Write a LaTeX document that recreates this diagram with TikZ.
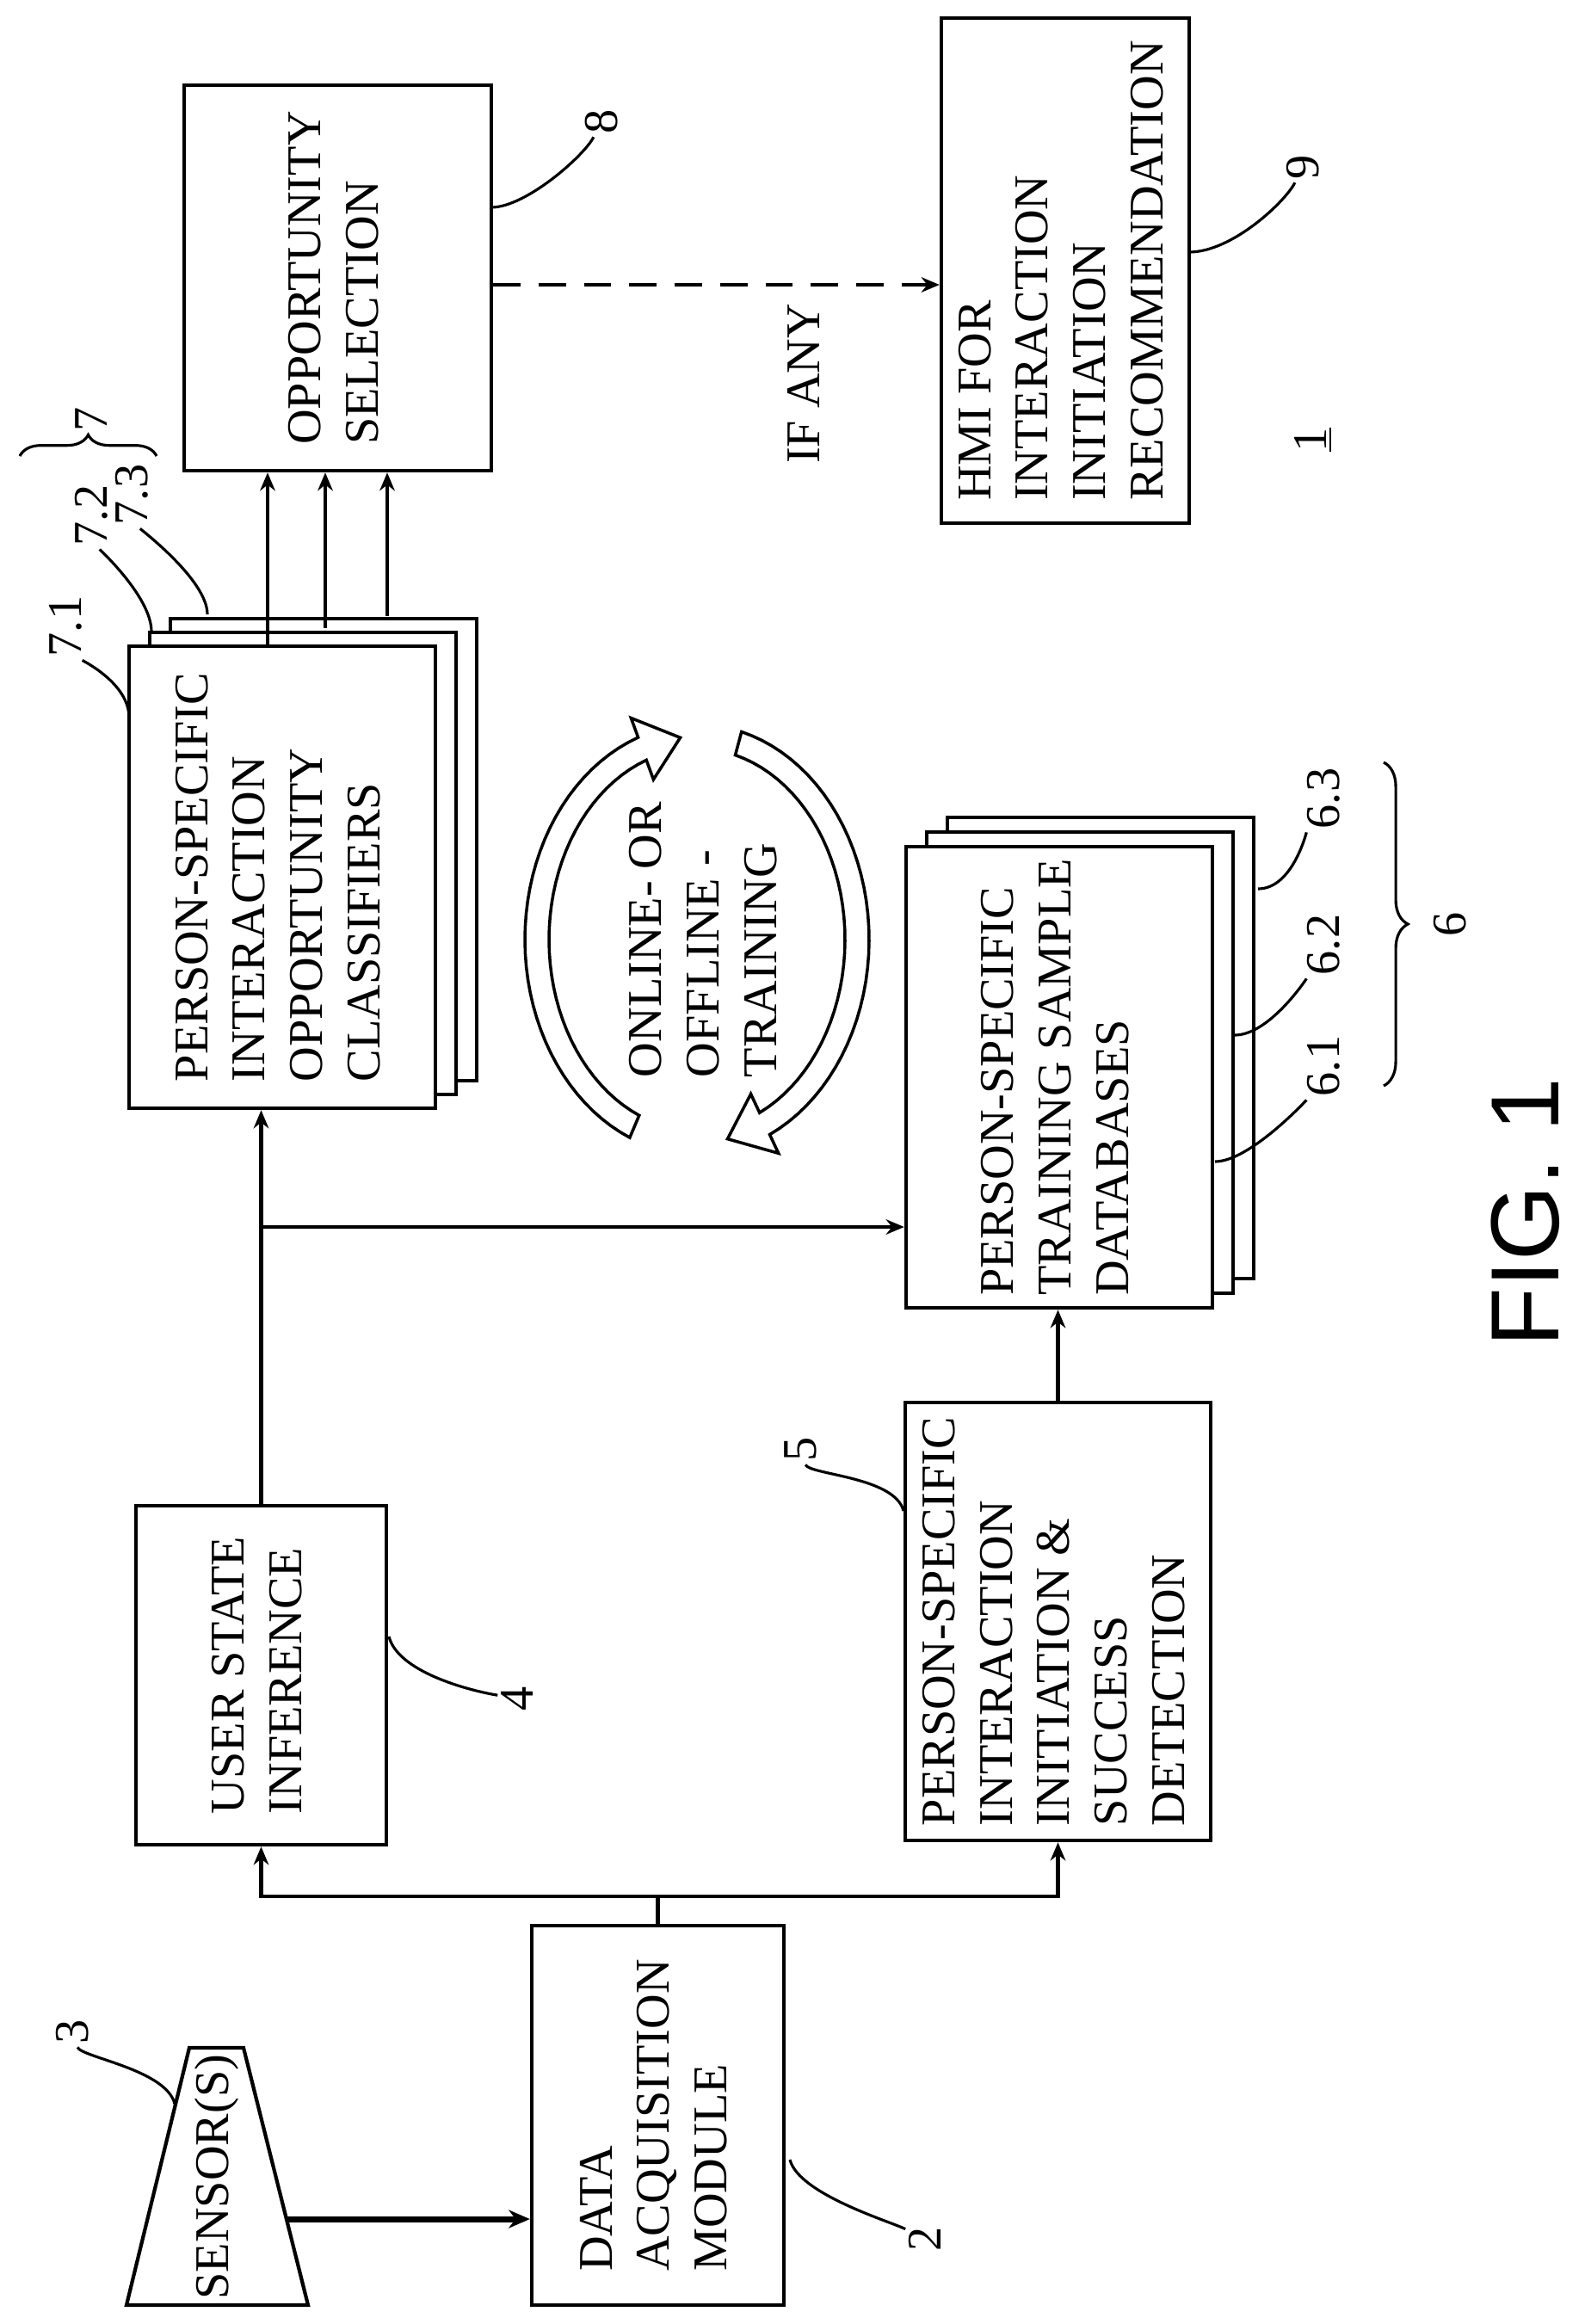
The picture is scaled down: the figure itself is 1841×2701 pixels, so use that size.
\documentclass[tikz,border=0pt]{standalone}
\usepackage{fontspec}
\setmainfont{Liberation Serif}
\setsansfont{Liberation Sans}
\usetikzlibrary{arrows.meta,decorations.pathreplacing}

\newcommand{\rot}[1]{\rotatebox{90}{\begin{tabular}{@{}l@{}}#1\end{tabular}}}

\tikzset{
  box/.style={draw, line width=1.2pt, fill=white, inner sep=0pt},
  arr/.style={line width=1.3pt, -{Stealth[length=6pt,width=5pt]}},
  lead/.style={line width=0.9pt},
  lbl/.style={inner sep=1pt}
}

\begin{document}
\begin{tikzpicture}[x=0.01cm, y=-0.01cm, font=\fontsize{16}{19}\selectfont]
\useasboundingbox (0,0) rectangle (1841,2701);

% sensor and acquisition
\draw[line width=1.2pt, fill=white] (220,2380) -- (283,2380) -- (358,2679) -- (147,2679) -- cycle;
\node (sensor) at (252,2530) {\rot{SENSOR(S)}};
\node[box, minimum width=2.93cm, minimum height=4.41cm] (daq) at (764.5,2458.5) {\rot{DATA\\ACQUISITION\\MODULE}};
\coordinate (sout) at (333,2579);
\draw[line width=2pt, -{Stealth[length=7pt,width=6pt]}] (sout) -- (daq.west |- sout);

\node[box, minimum width=2.91cm, minimum height=3.94cm] (usi) at (303.5,1947) {\rot{USER STATE\\INFERENCE}};
\node[box, minimum width=3.55cm, minimum height=5.09cm] (det) at (1229.5,1884.5) {\rot{PERSON-SPECIFIC\\INTERACTION\\INITIATION \&\\SUCCESS\\DETECTION}};

\coordinate (bus) at (daq.north |- 0,2204);
\draw[line width=1.3pt] (daq.north) -- (bus);
\draw[arr] (bus) -| (usi.south);
\draw[arr] (bus) -| (det.south);

% stacked classifiers
\foreach \k in {2,1}
  \draw[line width=1.2pt, fill=white] ({150+24*\k},{751-16*\k}) rectangle ({506+24*\k},{1288-16*\k});
\node[box, minimum width=3.56cm, minimum height=5.37cm] (cls) at (328,1019.5) {\rot{PERSON-SPECIFIC\\INTERACTION\\OPPORTUNITY\\CLASSIFIERS}};

% stacked databases
\foreach \k in {2,1}
  \draw[line width=1.2pt, fill=white] ({1053+24*\k},{984-17*\k}) rectangle ({1409+24*\k},{1520-17*\k});
\node[box, minimum width=3.56cm, minimum height=5.36cm] (db) at (1231,1252) {\rot{PERSON-SPECIFIC\\TRAINING SAMPLE\\DATABASES}};

\draw[arr] (usi.north) -- (usi.north |- cls.south);
\coordinate (br) at (usi.north |- 0,1426);
\draw[arr] (br) -- (br -| db.west);
\draw[arr] (det.north) -- (det.north |- db.south);

\node[box, minimum width=3.57cm, minimum height=4.48cm] (opp) at (392.5,323) {\rot{OPPORTUNITY\\SELECTION}};
\node[box, minimum width=2.88cm, minimum height=5.87cm] (hmi) at (1238,314.5) {\rot{HMI FOR\\INTERACTION\\INITIATION\\RECOMMENDATION}};

\foreach \x/\yt in {311/751,378/730,450/716}
  \draw[arr] (\x,\yt) -- (\x,0 |- opp.south);

\coordinate (dash) at (opp.east |- 0,331);
\draw[arr, dash pattern=on 9pt off 6pt] (dash) -- (hmi.west |- dash);
\node (ifany) at (939,446) {\rot{IF ANY}};

% training loop
\draw[line width=1pt, fill=white] plot[domain=113:250, samples=40] ({810+200*cos(\x)},{1092+250*sin(\x)})
  -- ({810+224*cos(250)},{1092+274*sin(250)}) -- ({810+186*cos(264)},{1092+236*sin(264)})
  -- ({810+148*cos(250)},{1092+198*sin(250)})
  -- plot[domain=250:113, samples=40] ({810+172*cos(\x)},{1092+222*sin(\x)}) -- cycle;
\draw[line width=1pt, fill=white] plot[domain=-75:65, samples=40] ({810+200*cos(\x)},{1092+250*sin(\x)})
  -- ({810+224*cos(65)},{1092+274*sin(65)}) -- ({810+186*cos(79)},{1092+236*sin(79)})
  -- ({810+148*cos(65)},{1092+198*sin(65)})
  -- plot[domain=65:-75, samples=40] ({810+172*cos(\x)},{1092+222*sin(\x)}) -- cycle;
\node (train) at (822,1092) {\rot{ONLINE- OR\\OFFLINE -\\TRAINING}};

% reference numerals
\node[lbl] (l8) at (699,141) {\rotatebox{90}{8}};
\node[lbl] (l9) at (1514,194) {\rotatebox{90}{9}};
\node[lbl] (l71) at (76,728) {\rotatebox{90}{7.1}};
\node[lbl] (l72) at (106,599) {\rotatebox{90}{7.2}};
\node[lbl] (l73) at (153,575) {\rotatebox{90}{7.3}};
\node[lbl] (l7) at (106,487) {\rotatebox{90}{7}};
\node[lbl] (l61) at (1538,1239) {\rotatebox{90}{6.1}};
\node[lbl] (l62) at (1538,1098) {\rotatebox{90}{6.2}};
\node[lbl] (l63) at (1538,928) {\rotatebox{90}{6.3}};
\node[lbl] (l6) at (1685,1074) {\rotatebox{90}{6}};
\node[lbl] (l4) at (601,1974) {\rotatebox{90}{4}};
\node[lbl] (l5) at (930,1684) {\rotatebox{90}{5}};
\node[lbl] (l3) at (84,2361) {\rotatebox{90}{3}};
\node[lbl] (l2) at (1075,2602) {\rotatebox{90}{2}};
\node[lbl] (one) at (1526,511) {\rotatebox{90}{\underline{1}}};

\draw[lead] (571,241) .. controls +(40,0) and +(-20,40) .. (l8);
\draw[lead] (1382,293) .. controls +(50,0) and +(-20,40) .. (l9);
\draw[lead] (150,834) .. controls +(0,-40) and +(20,40) .. (l71);
\draw[lead] (176,734) .. controls +(0,-40) and +(10,40) .. (l72);
\draw[lead] (241,714) .. controls +(0,-40) and +(10,40) .. (l73);
\draw[lead] (1412,1350) .. controls +(40,0) and +(-20,40) .. (l61);
\draw[lead] (1435,1203) .. controls +(40,0) and +(-20,40) .. (l62);
\draw[lead] (1462,1033) .. controls +(40,0) and +(-20,40) .. (l63);
\draw[lead] (452,1902) .. controls +(10,40) and +(-60,-10) .. (l4);
\draw[lead] (1050,1756) .. controls +(-10,-40) and +(10,30) .. (l5);
\draw[lead] (203,2445) .. controls +(-10,-40) and +(10,30) .. (l3);
\draw[lead] (918,2510) .. controls +(10,40) and +(-40,-20) .. (l2);

\draw[lead, decorate, decoration={brace, amplitude=7pt}] (23,530) -- (182,530);
\draw[lead, decorate, decoration={brace, amplitude=8pt}] (1608,886) -- (1608,1262);

\node (fig) at (1773,1409) {\rotatebox{90}{\sffamily\fontsize{32}{36}\selectfont FIG. 1}};
\end{tikzpicture}
\end{document}
